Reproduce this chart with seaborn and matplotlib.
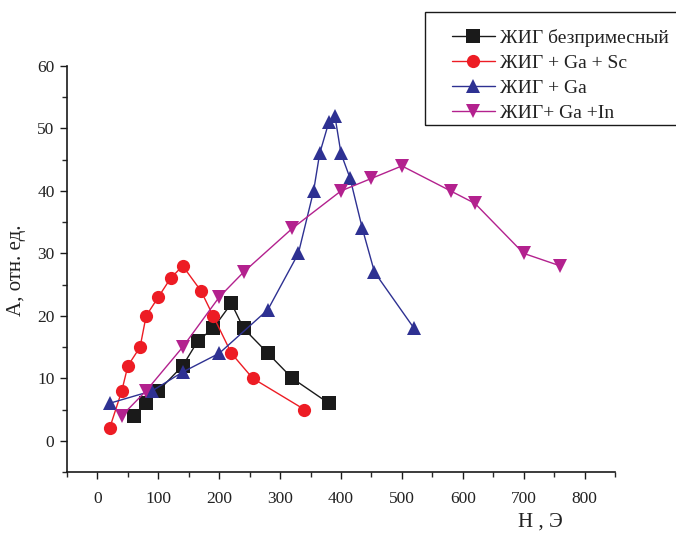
import matplotlib
matplotlib.use("Agg")
import matplotlib.pyplot as plt
import seaborn as sns
import pandas as pd
from matplotlib.ticker import MultipleLocator
from matplotlib.patches import Rectangle

# Data
pure_x = [60, 80, 100, 140, 165, 190, 220, 240, 280, 320, 380]
pure_y = [4, 6, 8, 12, 16, 18, 22, 18, 14, 10, 6]
gasc_x = [20, 40, 50, 70, 80, 100, 120, 140, 170, 190, 220, 255, 340]
gasc_y = [2, 8, 12, 15, 20, 23, 26, 28, 24, 20, 14, 10, 5]
ga_x = [20, 90, 140, 200, 280, 330, 355, 365, 380, 390, 400, 415, 435, 455, 520]
ga_y = [6, 8, 11, 14, 21, 30, 40, 46, 51, 52, 46, 42, 34, 27, 18]
gain_x = [40, 80, 140, 200, 240, 320, 400, 450, 500, 580, 620, 700, 760]
gain_y = [4, 8, 15, 23, 27, 34, 40, 42, 44, 40, 38, 30, 28]

labels = ["ЖИГ безпримесный", "ЖИГ + Ga + Sc", "ЖИГ + Ga", "ЖИГ+ Ga +In"]
colors = ["#1a1a1a", "#ED1C24", "#2E3192", "#B3218E"]
markers = ["s", "o", "^", "v"]

sns.set_style("ticks")
plt.rcParams['font.family'] = ['Liberation Serif', 'DejaVu Serif']

fig = plt.figure(figsize=(6.76, 5.36), dpi=100)
ax = fig.add_axes([67/676, 64/536, (615-67)/676, (472-66)/536])

series = [(pure_x, pure_y), (gasc_x, gasc_y), (ga_x, ga_y), (gain_x, gain_y)]
for (xs, ys), lab, c, m in zip(series, labels, colors, markers):
    df = pd.DataFrame({"H": xs, "A": ys})
    sns.lineplot(data=df, x="H", y="A", ax=ax, color=c, marker=m, markersize=9.5,
                 markeredgewidth=0, linewidth=1.0, sort=False, label=lab,
                 estimator=None)

ax.set_xlim(-50, 850)
ax.set_ylim(-5, 60)
ax.xaxis.set_major_locator(MultipleLocator(100))
ax.xaxis.set_minor_locator(MultipleLocator(50))
ax.yaxis.set_major_locator(MultipleLocator(10))
ax.yaxis.set_minor_locator(MultipleLocator(5))
ax.set_xticks([0, 100, 200, 300, 400, 500, 600, 700, 800])
ax.set_yticks([0, 10, 20, 30, 40, 50, 60])
ax.tick_params(which='major', direction='out', length=5, width=1, labelsize=12.5,
               colors='#1a1a1a', labelcolor='#222222')
ax.tick_params(which='minor', direction='out', length=3.5, width=1)
ax.tick_params(axis='x', pad=9)
ax.tick_params(axis='y', pad=4)
for s in ['top', 'right']:
    ax.spines[s].set_visible(False)
for s in ['left', 'bottom']:
    ax.spines[s].set_linewidth(1.2)
    ax.spines[s].set_color('#1a1a1a')

ax.set_xlabel("")
ax.set_ylabel("")
fig.text(540/676, 1 - 522/536, "H , Э", fontsize=15, ha='center', va='center', color='#222222')
fig.text(17/676, 1 - 270/536, "A, отн. ед.", fontsize=15, ha='center', va='center',
         rotation=90, color='#222222')

ax.get_legend().remove()
handles, labs = ax.get_legend_handles_labels()
leg = fig.legend(handles, labs, loc='upper left', bbox_to_anchor=(452/676, 1 - 29/536),
                 frameon=False, fontsize=14,
                 handlelength=2.2, borderpad=0, labelspacing=0.38, handletextpad=0.26,
                 borderaxespad=0)
for t in leg.get_texts():
    t.set_color('#222222')
fig.patches.append(Rectangle((425/676, 1 - 125/536), (690 - 425)/676, (125 - 12)/536,
                             transform=fig.transFigure, fill=False, edgecolor='#1a1a1a',
                             linewidth=1.0))

fig.savefig("out.png", dpi=100)
